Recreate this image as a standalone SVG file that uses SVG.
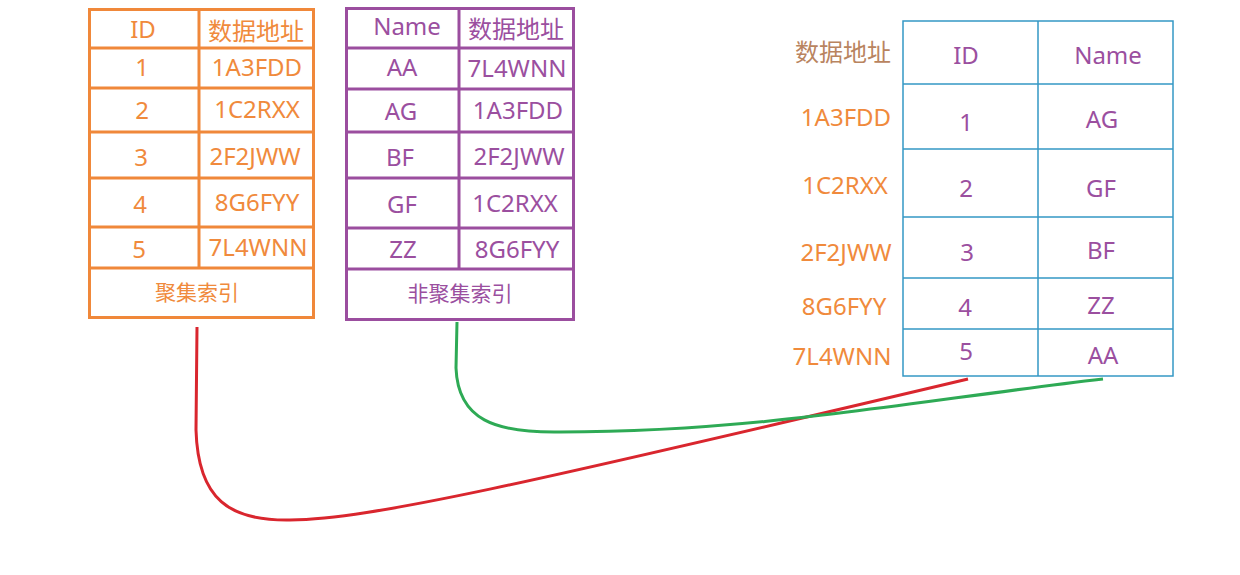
<svg xmlns="http://www.w3.org/2000/svg" width="1240" height="575" viewBox="0 0 1240 575">
<style>
text{font-family:"Noto Sans","Noto Sans CJK SC",sans-serif;font-size:24px;text-anchor:middle}
.o{fill:#f08a3c}
.p{fill:#9b4f9f}
.b{fill:#b9845f}
.cjk{font-family:"Noto Sans CJK SC",sans-serif}
.sm{font-size:21px}
.ob{fill:none;stroke:#f0883a;stroke-width:3}
.pb{fill:none;stroke:#9b4e9f;stroke-width:3}
.bb{fill:none;stroke:#3598c5;stroke-width:1.5}
.con{fill:none;stroke-width:3}
</style>
<rect width="1240" height="575" fill="#fff"/>
<g id="clustered-index">
<rect class="ob" x="89.5" y="9.5" width="224" height="308"/>
<path class="ob" d="M89,48H314M89,88H314M89,132H314M89,178H314M89,227H314M89,268H314M199,9V268"/>
<text class="o" x="143" y="38">ID</text>
<text class="o cjk" x="256" y="40">数据地址</text>
<text class="o" x="142" y="76">1</text><text class="o" x="257" y="76">1A3FDD</text>
<text class="o" x="142" y="119">2</text><text class="o" x="257" y="118">1C2RXX</text>
<text class="o" x="141" y="166">3</text><text class="o" x="255" y="165">2F2JWW</text>
<text class="o" x="140" y="213">4</text><text class="o" x="257" y="211">8G6FYY</text>
<text class="o" x="139" y="258">5</text><text class="o" x="258" y="256">7L4WNN</text>
<text class="o cjk sm" x="197" y="300">聚集索引</text>
</g>
<g id="nonclustered-index">
<rect class="pb" x="346.5" y="8.5" width="227" height="311"/>
<path class="pb" d="M346,48H574M346,89H574M346,132H574M346,178H574M346,228H574M346,269H574M459,8V269"/>
<text class="p" x="407" y="35">Name</text>
<text class="p cjk" x="516" y="38">数据地址</text>
<text class="p" x="402" y="76">AA</text><text class="p" x="517" y="77">7L4WNN</text>
<text class="p" x="401" y="120">AG</text><text class="p" x="518" y="119">1A3FDD</text>
<text class="p" x="400" y="166">BF</text><text class="p" x="519" y="165">2F2JWW</text>
<text class="p" x="402" y="213">GF</text><text class="p" x="515" y="212">1C2RXX</text>
<text class="p" x="403" y="258">ZZ</text><text class="p" x="517" y="258">8G6FYY</text>
<text class="p cjk sm" x="460" y="301">非聚集索引</text>
</g>
<g id="data-table">
<rect class="bb" x="903" y="21" width="270" height="355"/>
<path class="bb" d="M903,84H1173M903,149H1173M903,217H1173M903,278H1173M903,329H1173M1038,21V376"/>
<text class="b cjk" x="843" y="61">数据地址</text>
<text class="p" x="966" y="64">ID</text>
<text class="p" x="1108" y="64">Name</text>
<text class="o" x="846" y="126">1A3FDD</text><text class="p" x="966" y="131">1</text><text class="p" x="1102" y="128">AG</text>
<text class="o" x="845" y="194">1C2RXX</text><text class="p" x="966" y="197">2</text><text class="p" x="1101" y="197">GF</text>
<text class="o" x="846" y="261">2F2JWW</text><text class="p" x="967" y="261">3</text><text class="p" x="1101" y="259">BF</text>
<text class="o" x="844" y="315">8G6FYY</text><text class="p" x="965" y="316">4</text><text class="p" x="1101" y="314">ZZ</text>
<text class="o" x="842" y="365">7L4WNN</text><text class="p" x="966" y="360">5</text><text class="p" x="1103" y="364">AA</text>
</g>
<g id="connectors">
<path class="con" stroke="#d9262e" d="M197,327 L196,430 C198,500 230,521 290,520 C370,519 520,485 968,379"/>
<path class="con" stroke="#2eaa55" d="M457,322 L456,368 C458,420 495,433 560,432 C760,432 920,400 1103,379"/>
</g>
</svg>
